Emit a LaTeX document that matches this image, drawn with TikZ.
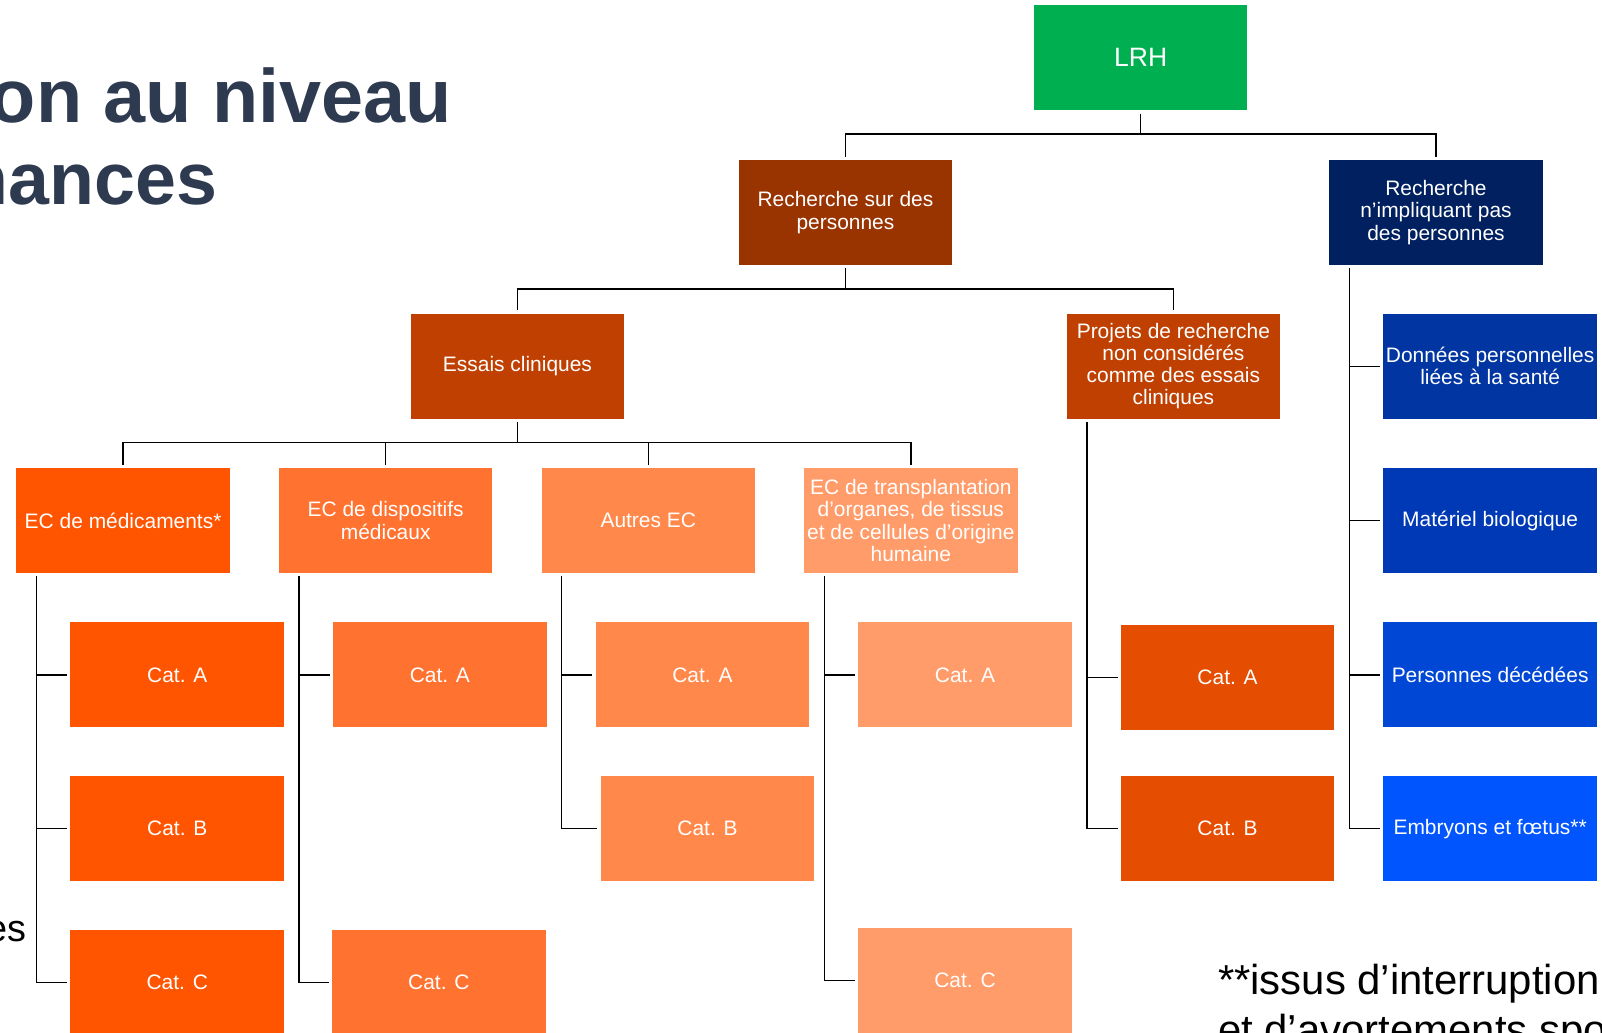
\documentclass[tikz,border=0pt]{standalone}
\usepackage{fontspec}
\setmainfont{Liberation Sans}
\definecolor{cLRH}{HTML}{00B050}
\definecolor{cRSP}{HTML}{993300}
\definecolor{cRNP}{HTML}{002060}
\definecolor{cEss}{HTML}{BF4000}
\definecolor{cMed}{HTML}{FF5500}
\definecolor{cDisp}{HTML}{FF7230}
\definecolor{cAut}{HTML}{FF884A}
\definecolor{cTr}{HTML}{FF9C69}
\definecolor{cPr}{HTML}{E54D00}
\definecolor{cDon}{HTML}{0035A2}
\definecolor{cMat}{HTML}{0039B5}
\definecolor{cDec}{HTML}{0047D6}
\definecolor{cEmb}{HTML}{0055FF}
\definecolor{cTitle}{HTML}{2E3A50}
\begin{document}
\begin{tikzpicture}[x=1pt,y=-1pt,
  box/.style={rectangle, minimum width=209pt, minimum height=103pt, inner sep=0pt,
    text=white, align=center, font=\fontsize{20.5}{21.7}\selectfont},
  conn/.style={draw=black, line width=1.4pt, shorten <=3pt, shorten >=3pt},
  freetext/.style={anchor=base west, inner sep=0pt}]
\useasboundingbox (0,0) rectangle (1568,1011);

% title fragments
\node[freetext, text=cTitle, font=\fontsize{74}{80}\selectfont\bfseries] (t1) at (-10,120) {on au niveau};
\node[freetext, text=cTitle, font=\fontsize{72}{80}\selectfont\bfseries] (t2) at (-35.5,200) {nances};
\node[freetext, font=\fontsize{37}{44}\selectfont] (es) at (-13.5,921.5) {es};
\node[freetext, font=\fontsize{41}{49}\selectfont] (fn1) at (1192,973) {**issus d’interruption};
\node[freetext, font=\fontsize{41}{49}\selectfont] (fn2) at (1192,1022) {et d’avortements spo};

% level 1-3
\node[box, fill=cLRH, font=\fontsize{26}{28}\selectfont] (lrh) at (1116.5,56.5) {LRH};
\node[box, fill=cRSP] (rsp) at (827.5,208) {Recherche sur des\\personnes};
\node[box, fill=cRNP] (rnp) at (1405.5,208) {Recherche\\n’impliquant pas\\des personnes};
\node[box, fill=cEss] (ess) at (506.5,358.5) {Essais cliniques};
\node[box, fill=cEss] (proj) at (1148.5,358.5) {Projets de recherche\\non considérés\\comme des essais\\cliniques};

% level 4
\node[box, fill=cMed] (med) at (120.5,509.5) {EC de médicaments*};
\node[box, fill=cDisp] (disp) at (377.5,509.5) {EC de dispositifs\\médicaux};
\node[box, fill=cAut] (aut) at (634.5,509.5) {Autres EC};
\node[box, fill=cTr] (tr) at (891.5,509.5) {EC de transplantation\\d’organes, de tissus\\et de cellules d’origine\\humaine};

% categories
\node[box, fill=cMed] (medA) at (173.5,660.5) {Cat. A};
\node[box, fill=cMed] (medB) at (173.5,811) {Cat. B};
\node[box, fill=cMed] (medC) at (173.5,961.5) {Cat. C};
\node[box, fill=cDisp] (dispA) at (430.5,660.5) {Cat. A};
\node[box, fill=cDisp] (dispC) at (429.5,961.5) {Cat. C};
\node[box, fill=cAut] (autA) at (687.5,660.5) {Cat. A};
\node[box, fill=cAut] (autB) at (692.5,811) {Cat. B};
\node[box, fill=cTr] (trA) at (944.5,660.5) {Cat. A};
\node[box, fill=cTr] (trC) at (944.5,959.5) {Cat. C};
\node[box, fill=cPr] (prA) at (1201.5,663) {Cat. A};
\node[box, fill=cPr] (prB) at (1201.5,811) {Cat. B};

% non-person research
\node[box, fill=cDon] (don) at (1458.5,358.5) {Données personnelles\\liées à la santé};
\node[box, fill=cMat] (mat) at (1458.5,509.5) {Matériel biologique};
\node[box, fill=cDec] (dec) at (1458.5,660.5) {Personnes décédées};
\node[box, fill=cEmb] (emb) at (1458.5,811) {Embryons et fœtus**};

% tree connectors
\draw[conn] (lrh.south) -- ++(0,23) -| (rsp.north);
\draw[conn] (lrh.south) -- ++(0,23) -| (rnp.north);
\draw[conn] (rsp.south) -- ++(0,23) -| (ess.north);
\draw[conn] (rsp.south) -- ++(0,23) -| (proj.north);
\draw[conn] (ess.south) -- ++(0,23) -| (med.north);
\draw[conn] (ess.south) -- ++(0,23) -| (disp.north);
\draw[conn] (ess.south) -- ++(0,23) -| (aut.north);
\draw[conn] (ess.south) -- ++(0,23) -| (tr.north);

% side branches
\foreach \p/\c in {med/medA, med/medB, med/medC, disp/dispA, disp/dispC,
                   aut/autA, aut/autB, tr/trA, tr/trC, proj/prA, proj/prB,
                   rnp/don, rnp/mat, rnp/dec, rnp/emb}
  \draw[conn] ([xshift=20pt]\p.south west) |- (\c.west);
\end{tikzpicture}
\end{document}
